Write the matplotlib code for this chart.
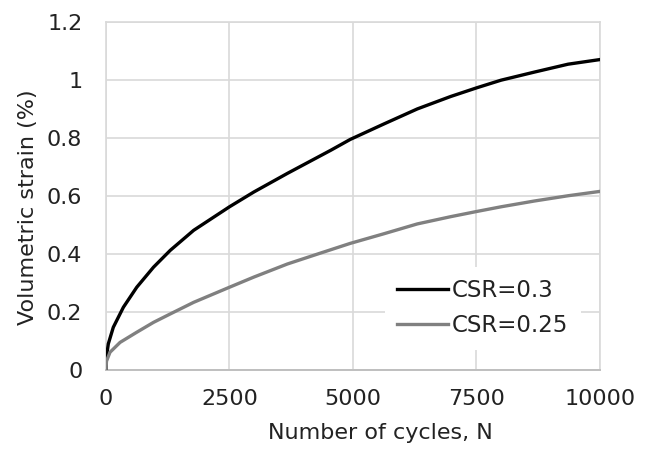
import matplotlib.pyplot as plt

plt.rcParams['font.family'] = ['DejaVu Sans']

# cycles vs volumetric strain for the two stress ratios
n_03 = [0, 10, 47, 148, 352, 623, 962, 1301, 1775, 2500, 2994, 3672, 4554,
        4945, 5623, 6302, 6980, 7510, 7998, 8676, 9353, 10000]
strain_03 = [0.0, 0.045, 0.090, 0.147, 0.216, 0.285, 0.354, 0.412, 0.481, 0.562,
             0.613, 0.677, 0.757, 0.794, 0.847, 0.899, 0.942, 0.972, 0.998, 1.026,
             1.053, 1.069]

n_025 = [0, 10, 81, 285, 623, 962, 1301, 1775, 2500, 2994, 3672, 4350, 4945,
         5623, 6302, 6980, 7510, 7998, 8676, 9353, 10000]
strain_025 = [0.0, 0.030, 0.061, 0.095, 0.130, 0.164, 0.193, 0.233, 0.285, 0.320,
              0.365, 0.403, 0.436, 0.469, 0.503, 0.528, 0.546, 0.562, 0.582, 0.600,
              0.615]

x_ticks = [0, 2500, 5000, 7500, 10000]
y_ticks = [0, 0.2, 0.4, 0.6, 0.8, 1.0, 1.2]
y_tick_labels = ['0', '0.2', '0.4', '0.6', '0.8', '1', '1.2']

text_col = '#222222'

fig = plt.figure(figsize=(6.49, 4.5), dpi=100)
ax = fig.add_axes([0.1633, 0.1778, 0.7612, 0.7744])

ax.plot(n_03, strain_03, color='black', lw=2.4, label='CSR=0.3',
        solid_joinstyle='round', zorder=3)
ax.plot(n_025, strain_025, color='#808080', lw=2.4, label='CSR=0.25',
        solid_joinstyle='round', zorder=3)

ax.set_xlim(0, 10000)
ax.set_ylim(0, 1.2)
ax.set_xticks(x_ticks)
ax.set_xticklabels([str(t) for t in x_ticks])
ax.set_yticks(y_ticks)
ax.set_yticklabels(y_tick_labels)
ax.grid(True, color='#d9d9d9', lw=1.2)
ax.set_axisbelow(True)
ax.tick_params(length=0, labelsize=16, colors=text_col)
ax.tick_params(axis='y', pad=17)
ax.tick_params(axis='x', pad=13.5)
for side in ['top', 'right', 'left']:
    ax.spines[side].set_color('#d9d9d9')
    ax.spines[side].set_linewidth(1.2)
ax.spines['bottom'].set_color('#bfbfbf')
ax.spines['bottom'].set_linewidth(1.4)

# axis titles sit a little off the plot-area centre
ax.set_xlabel('Number of cycles, N', fontsize=16, color=text_col)
ax.xaxis.set_label_coords(0.5547, -0.152)
ax.set_ylabel('Volumetric strain (%)', fontsize=16, color=text_col)
ax.yaxis.set_label_coords(-0.1377, 0.4677)

leg = ax.legend(loc='upper left', bbox_to_anchor=(0.564, 0.2963), frameon=True,
                fontsize=16.5, handlelength=2.2, handletextpad=0.2,
                labelspacing=0.53, borderpad=0.55, borderaxespad=0)
leg.get_frame().set_edgecolor('none')
leg.get_frame().set_facecolor('white')
leg.get_frame().set_alpha(1)
for t in leg.get_texts():
    t.set_color(text_col)

fig.savefig('out.png', dpi=100)
